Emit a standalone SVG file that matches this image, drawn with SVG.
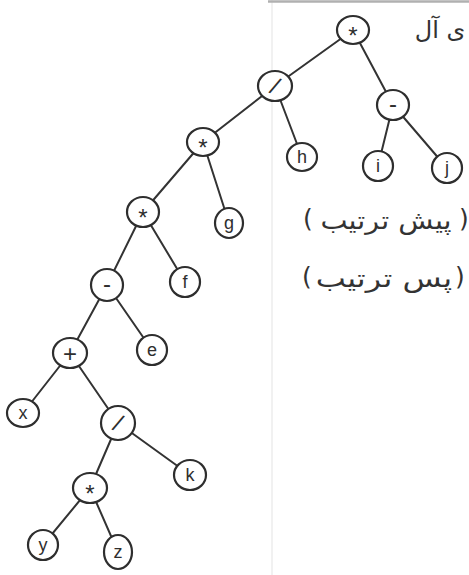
<svg xmlns="http://www.w3.org/2000/svg" width="469" height="575" viewBox="0 0 469 575">
<style>
.n ellipse{fill:#fff;stroke:#2e2e2e;stroke-width:2.2}
.n text{font-family:"Liberation Sans",Arial,sans-serif;font-size:18px;fill:#2e2e2e;text-anchor:middle;dominant-baseline:central}
.n text.op{font-size:24px}
#edges line{stroke:#333;stroke-width:2;stroke-linecap:round}
.fa{font-family:"DejaVu Sans",sans-serif;fill:#333;text-anchor:middle;dominant-baseline:central}
</style>
<rect width="469" height="575" fill="#fff"/>
<line x1="272" y1="0" x2="272" y2="575" stroke="#ececec" stroke-width="1.5"/>
<line x1="268" y1="1.5" x2="469" y2="1.5" stroke="#b0b0b0" stroke-width="2.5"/>
<g id="edges">
<line x1="353" y1="30" x2="275" y2="86"/>
<line x1="353" y1="30" x2="393" y2="105"/>
<line x1="275" y1="86" x2="203" y2="142"/>
<line x1="275" y1="86" x2="302" y2="157"/>
<line x1="393" y1="105" x2="378" y2="166"/>
<line x1="393" y1="105" x2="447" y2="168"/>
<line x1="203" y1="142" x2="143" y2="212"/>
<line x1="203" y1="142" x2="229" y2="223"/>
<line x1="143" y1="212" x2="107" y2="285"/>
<line x1="143" y1="212" x2="185" y2="282"/>
<line x1="107" y1="285" x2="70" y2="353"/>
<line x1="107" y1="285" x2="152" y2="350"/>
<line x1="70" y1="353" x2="23" y2="413"/>
<line x1="70" y1="353" x2="118" y2="423"/>
<line x1="118" y1="423" x2="90" y2="488"/>
<line x1="118" y1="423" x2="190" y2="475"/>
<line x1="90" y1="488" x2="43" y2="545"/>
<line x1="90" y1="488" x2="118" y2="552"/>
</g>
<g id="n1" class="n"><ellipse cx="353" cy="30" rx="16" ry="14"/><text class="op" x="353" y="35">*</text></g>
<g id="n2" class="n"><ellipse cx="275" cy="86" rx="17" ry="15"/><text class="op" x="275" y="86" transform="rotate(25 275 86)">/</text></g>
<g id="n3" class="n"><ellipse cx="393" cy="105" rx="16" ry="15"/><text class="op" x="393" y="103">-</text></g>
<g id="n4" class="n"><ellipse cx="203" cy="142" rx="16" ry="14"/><text class="op" x="203" y="147">*</text></g>
<g id="n5" class="n"><ellipse cx="302" cy="157" rx="15" ry="14"/><text x="302" y="157">h</text></g>
<g id="n6" class="n"><ellipse cx="378" cy="166" rx="15" ry="15"/><text x="378" y="166">i</text></g>
<g id="n7" class="n"><ellipse cx="447" cy="168" rx="15" ry="15"/><text x="447" y="168">j</text></g>
<g id="n8" class="n"><ellipse cx="143" cy="212" rx="16" ry="15"/><text class="op" x="143" y="217">*</text></g>
<g id="n9" class="n"><ellipse cx="229" cy="223" rx="14" ry="15"/><text x="229" y="223">g</text></g>
<g id="n10" class="n"><ellipse cx="107" cy="285" rx="16" ry="16"/><text class="op" x="107" y="283">-</text></g>
<g id="n11" class="n"><ellipse cx="185" cy="282" rx="15" ry="15"/><text x="185" y="282">f</text></g>
<g id="n12" class="n"><ellipse cx="70" cy="353" rx="17" ry="15"/><text class="op" x="70" y="353">+</text></g>
<g id="n13" class="n"><ellipse cx="152" cy="350" rx="15" ry="15"/><text x="152" y="350">e</text></g>
<g id="n14" class="n"><ellipse cx="23" cy="413" rx="16" ry="14"/><text x="23" y="413">x</text></g>
<g id="n15" class="n"><ellipse cx="118" cy="423" rx="17" ry="17"/><text class="op" x="118" y="423" transform="rotate(25 118 423)">/</text></g>
<g id="n16" class="n"><ellipse cx="90" cy="488" rx="17" ry="15"/><text class="op" x="90" y="493">*</text></g>
<g id="n17" class="n"><ellipse cx="190" cy="475" rx="16" ry="15"/><text x="190" y="475">k</text></g>
<g id="n18" class="n"><ellipse cx="43" cy="545" rx="15" ry="15"/><text x="43" y="545">y</text></g>
<g id="n19" class="n"><ellipse cx="118" cy="552" rx="14" ry="17"/><text x="118" y="552">z</text></g>
<text class="fa" x="440" y="30" font-size="24">ی آل</text>
<g id="label-pre">
<text class="fa" x="308" y="218" font-size="25">(</text>
<text class="fa" x="0" y="0" font-size="25" transform="translate(386 220) scale(1.15 1)">پیش ترتیب</text>
<text class="fa" x="464" y="218" font-size="25">)</text>
</g>
<g id="label-post">
<text class="fa" x="307" y="276" font-size="25">(</text>
<text class="fa" x="0" y="0" font-size="25" transform="translate(384 278) scale(1.28 1)">پس ترتیب</text>
<text class="fa" x="460" y="276" font-size="25">)</text>
</g>
</svg>
